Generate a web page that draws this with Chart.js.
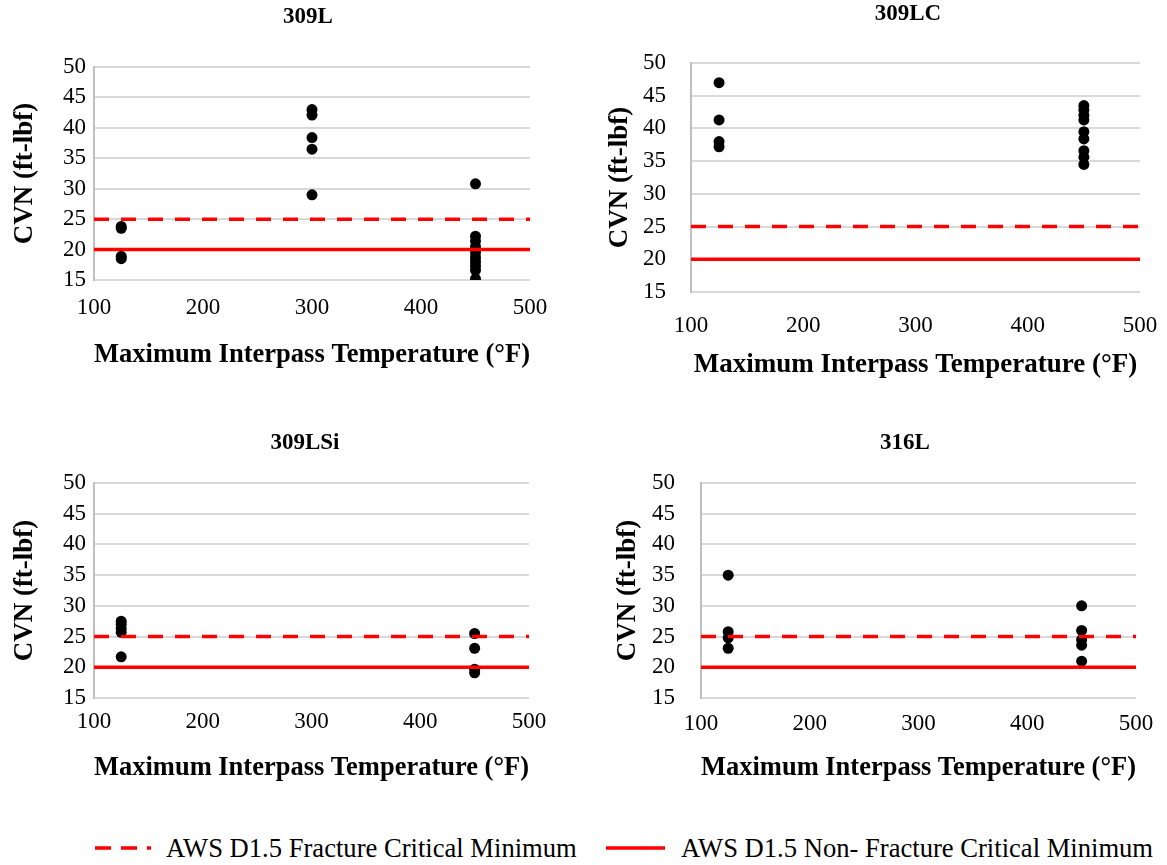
<!DOCTYPE html>
<html>
<head>
<meta charset="utf-8">
<script src="https://cdn.jsdelivr.net/npm/chart.js@4.4.1/dist/chart.umd.min.js"></script>
<style>
  html, body { margin: 0; padding: 0; background: #fff; overflow: hidden; }
  body { width: 1167px; height: 865px; position: relative; font-family: 'Liberation Serif', 'Times New Roman', serif; }
  canvas { position: absolute; }
  .key { position: absolute; top: 828px; height: 40px; line-height: 40px; font-size: 26.6px; color: #000; white-space: nowrap; }
  .swatch { position: absolute; top: 846px; }
</style>
</head>
<body>
<canvas id="c1"></canvas>
<canvas id="c2"></canvas>
<canvas id="c3"></canvas>
<canvas id="c4"></canvas>

<svg class="swatch" style="left:95px" width="56" height="4"><line x1="0" y1="2" x2="56" y2="2" stroke="#ff0000" stroke-width="3.5" stroke-dasharray="16 10"/></svg>
<span class="key" id="k1" style="left:166px"></span>
<svg class="swatch" style="left:606px" width="59" height="4"><line x1="0" y1="2" x2="59" y2="2" stroke="#ff0000" stroke-width="3.5"/></svg>
<span class="key" id="k2" style="left:681px"></span>

<script>
// data (max interpass temp in F, CVN in ft-lbf)
var temp309L  = [125, 125, 125, 125, 300, 300, 300, 300, 300, 450, 450, 450, 450, 450, 450, 450, 450, 450, 450];
var cvn309L   = [23.8, 23.5, 18.9, 18.5, 43.0, 42.1, 38.4, 36.5, 29.0, 30.8, 22.2, 21.4, 20.5, 19.5, 18.7, 18.0, 17.3, 16.6, 15.2];

var temp309LC = [125, 125, 125, 125, 450, 450, 450, 450, 450, 450, 450, 450, 450];
var cvn309LC  = [47.0, 41.3, 38.0, 37.2, 43.5, 42.8, 42.0, 41.3, 39.5, 38.4, 36.6, 35.6, 34.5];

var temp309LSi = [125, 125, 125, 125, 125, 450, 450, 450, 450];
var cvn309LSi  = [27.5, 27.0, 26.3, 25.7, 21.7, 25.5, 23.1, 19.7, 19.1];

var temp316L = [125, 125, 125, 125, 450, 450, 450, 450, 450];
var cvn316L  = [35.0, 25.8, 24.8, 23.1, 30.0, 26.0, 24.5, 23.6, 21.0];

var fractureMin = 25;      // AWS D1.5 fracture critical
var nonFractureMin = 20;   // AWS D1.5 non-fracture critical
var xRange = [100, 500];
var yRange = [15, 50];
var xStep = 100;
var yStep = 5;

var legendLabels = ['AWS D1.5 Fracture Critical Minimum', 'AWS D1.5 Non- Fracture Critical Minimum'];
var yTitle = 'CVN (ft-lbf)';
var xTitle = 'Maximum Interpass Temperature (\u00B0F)';

var FONT = "'Liberation Serif', 'Times New Roman', serif";
var TITLE_SIZE = 23, AXIS_SIZE = 27, TICK_SIZE = 23;

document.getElementById('k1').textContent = legendLabels[0];
document.getElementById('k2').textContent = legendLabels[1];

function pts(xs, ys) {
    var out = [];
    for (var i = 0; i < xs.length; i++) out.push({x: xs[i], y: ys[i]});
    return out;
}

function hline(v) {
    return [{x: xRange[0], y: v}, {x: xRange[1], y: v}];
}

function build(id, name, xs, ys, g) {
    var lhT = TITLE_SIZE * 1.2, lhA = AXIS_SIZE * 1.2, lhK = TICK_SIZE * 1.2;
    var cx = Math.round(g.yTitleX - lhA / 2);
    var cy = g.top;
    var cw = Math.round(2 * (g.titleX - cx));
    var ch = Math.round(g.xTitleY + lhA / 2 - cy);
    var tTop = g.titleY - cy - lhT / 2;
    var tBot = g.plot.t - cy - tTop - lhT;

    var cv = document.getElementById(id);
    cv.width = cw; cv.height = ch;
    cv.style.left = cx + 'px'; cv.style.top = cy + 'px';
    cv.style.width = cw + 'px'; cv.style.height = ch + 'px';

    new Chart(cv, {
        type: 'scatter',
        data: {
            datasets: [
                {
                    type: 'line',
                    label: legendLabels[0],
                    data: hline(fractureMin),
                    borderColor: '#ff0000',
                    borderWidth: 3.5,
                    borderDash: [15, 12],
                    pointRadius: 0,
                    fill: false
                },
                {
                    type: 'line',
                    label: legendLabels[1],
                    data: hline(nonFractureMin),
                    borderColor: '#ff0000',
                    borderWidth: 3.5,
                    pointRadius: 0,
                    fill: false
                },
                {
                    label: name,
                    data: pts(xs, ys),
                    backgroundColor: '#000',
                    borderWidth: 0,
                    pointRadius: 5.5
                }
            ]
        },
        options: {
            responsive: false,
            animation: false,
            layout: { padding: 0 },
            plugins: {
                legend: { display: false },
                tooltip: { enabled: false },
                title: {
                    display: true,
                    text: name,
                    color: '#000',
                    font: { family: FONT, size: TITLE_SIZE, weight: 'bold' },
                    padding: { top: tTop, bottom: tBot }
                }
            },
            scales: {
                x: {
                    type: 'linear',
                    min: xRange[0], max: xRange[1],
                    grid: { display: false, drawTicks: false },
                    border: { display: false },
                    ticks: {
                        stepSize: xStep, color: '#000', autoSkip: false,
                        padding: g.xTickY - g.plot.b - lhK / 2,
                        font: { family: FONT, size: TICK_SIZE }
                    },
                    title: {
                        display: true, text: xTitle, color: '#000',
                        padding: { top: 0, bottom: 0 },
                        font: { family: FONT, size: AXIS_SIZE, weight: 'bold' }
                    },
                    afterFit: function(s) { s.height = cy + ch - g.plot.b; }
                },
                y: {
                    min: yRange[0], max: yRange[1],
                    grid: { color: '#d9d9d9', lineWidth: 2, drawTicks: false },
                    border: { display: true, color: '#bfbfbf', width: 2 },
                    ticks: {
                        stepSize: yStep, color: '#000', autoSkip: false,
                        padding: g.plot.l - g.yTickR,
                        font: { family: FONT, size: TICK_SIZE }
                    },
                    title: {
                        display: true, text: yTitle, color: '#000',
                        padding: { top: 0, bottom: 0 },
                        font: { family: FONT, size: AXIS_SIZE, weight: 'bold' }
                    },
                    afterFit: function(s) { s.width = g.plot.l - cx; }
                },
                pad: {
                    position: 'right',
                    grid: { display: false },
                    border: { display: false },
                    ticks: { display: false },
                    afterFit: function(s) { s.width = cx + cw - g.plot.r; }
                }
            }
        }
    });
}

build('c1', '309L', temp309L, cvn309L, {
    top: 0, plot: {l: 94, t: 67, r: 530, b: 280},
    titleX: 308, titleY: 17, yTitleX: 25, xTitleY: 355, xTickY: 308, yTickR: 86
});
build('c2', '309LC', temp309LC, cvn309LC, {
    top: 0, plot: {l: 691, t: 63, r: 1140, b: 292},
    titleX: 908, titleY: 14, yTitleX: 620, xTitleY: 365, xTickY: 326, yTickR: 666
});
build('c3', '309LSi', temp309LSi, cvn309LSi, {
    top: 420, plot: {l: 94, t: 483, r: 529, b: 698},
    titleX: 305, titleY: 443, yTitleX: 25, xTitleY: 768, xTickY: 722, yTickR: 86
});
build('c4', '316L', temp316L, cvn316L, {
    top: 420, plot: {l: 701, t: 483, r: 1136, b: 698},
    titleX: 905, titleY: 443, yTitleX: 628, xTitleY: 768, xTickY: 724, yTickR: 675
});
</script>
</body>
</html>
